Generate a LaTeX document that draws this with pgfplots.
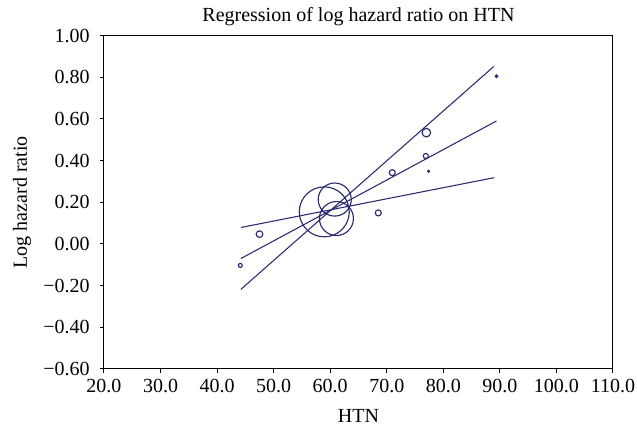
\documentclass[border=0pt]{standalone}
\usepackage{fontspec}
\setmainfont{Liberation Serif}
\usepackage{pgfplots}
\usepackage{pgfplotstable}
\pgfplotsset{compat=1.18}
\definecolor{navy}{RGB}{42,42,110}
\pgfplotstableread{
x y r
44.1 -0.103 1.5
47.5 0.047 2.5
58.95 0.154 18.75
60.8 0.213 12.4
61.1 0.122 12.75
68.5 0.149 2.25
70.97 0.342 2.25
77.0 0.534 3.2
76.9 0.422 1.9
77.4 0.349 0.7
89.4 0.805 1.0
}\bubbles
\begin{document}
\fontsize{15}{18}\selectfont
\begin{tikzpicture}
\useasboundingbox (-78pt,-47.25pt) rectangle (399.75pt,276.75pt);
\begin{axis}[
  scale only axis,
  width=381.75pt, height=250.1pt,
  xmin=20, xmax=110, ymin=-0.6, ymax=1.0,
  xtick={20,30,...,110},
  xticklabels={20.0,30.0,40.0,50.0,60.0,70.0,80.0,90.0,100.0,110.0},
  ytick={-0.6,-0.4,-0.2,0,0.2,0.4,0.6,0.8,1.0},
  yticklabels={−0.60,−0.40,−0.20,0.00,0.20,0.40,0.60,0.80,1.00},
  tick pos=left,
  tick align=outside,
  major tick length=3pt,
  yticklabel style={inner sep=0pt, xshift=-7.5pt},
  xticklabel style={inner sep=0pt, yshift=-4.5pt},
  axis line style={line width=0.75pt},
  tick style={line width=0.75pt, black},
  title={Regression of log hazard ratio on HTN},
  title style={at={(axis description cs:0.5,1)}, anchor=center, yshift=7.9pt},
  xlabel={HTN},
  xlabel style={at={(axis description cs:0.5,0)}, anchor=center, yshift=-35.5pt},
  ylabel={Log hazard ratio},
  ylabel style={at={(axis description cs:-0.1611,0.5)}, anchor=center},
  clip=false,
]
\addplot[navy, line width=0.8pt] coordinates {(44.2,0.079) (89.0,0.318)};
\addplot[navy, line width=0.8pt] coordinates {(44.2,-0.070) (89.4,0.590)};
\addplot[navy, line width=0.8pt] coordinates {(44.2,-0.218) (88.9,0.851)};
\addplot[scatter, only marks, mark=o, line width=0.85pt,
  scatter/use mapped color={draw=navy},
  visualization depends on={\thisrow{r}\as\rad},
  scatter/@pre marker code/.append style={/tikz/mark size=\rad pt}]
  table[x=x,y=y] {\bubbles};
\end{axis}
\end{tikzpicture}
\end{document}
